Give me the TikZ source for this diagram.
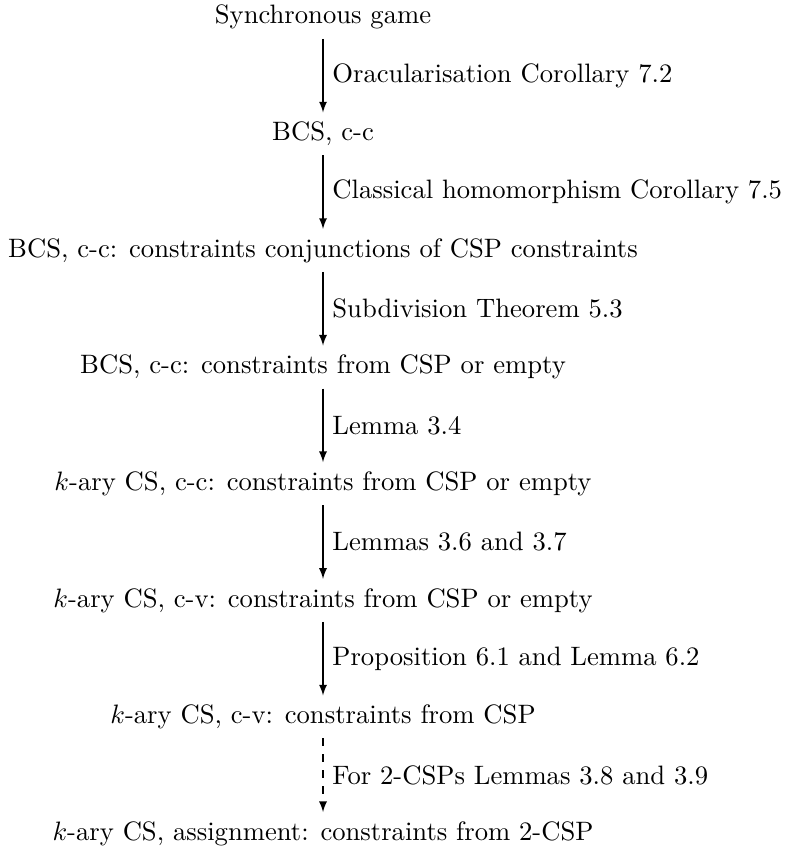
\documentclass[tikz,border=0pt]{standalone}
\usepackage{amsmath}
\usepackage{amssymb}

\begin{document}
\begin{tikzpicture}[x=0.3756pt,y=0.3756pt,yscale=-1,xscale=1]
    \useasboundingbox (0,0) rectangle (784,855);

    % Text Node
    \node (sync) [anchor=base] at (323,24) {Synchronous game};
    % Text Node
    \node (bcs) [anchor=base] at (323,140.6) {BCS, c-c};
    % Text Node
    \node (bcsconj) [anchor=base] at (323,257.1) {BCS, c-c: constraints conjunctions of CSP constraints};
    % Text Node
    \node (bcsempty) [anchor=base] at (323,373.7) {BCS, c-c: constraints from CSP or empty};
    % Text Node
    \node (kcc) [anchor=base] at (323,490.3) {$k$-ary CS, c-c: constraints from CSP or empty};
    % Text Node
    \node (kcv) [anchor=base] at (323,607) {$k$-ary CS, c-v: constraints from CSP or empty};
    % Text Node
    \node (kcvcsp) [anchor=base] at (323,723.6) {$k$-ary CS, c-v: constraints from CSP};
    % Text Node
    \node (kassign) [anchor=base] at (323,840.2) {$k$-ary CS, assignment: constraints from 2-CSP};

    %Straight Lines
    \draw [-latex] (sync) -- (bcs) node [midway, right] {Oracularisation Corollary 7.2};
    %Straight Lines
    \draw [-latex] (bcs) -- (bcsconj) node [midway, right] {Classical homomorphism Corollary 7.5};
    %Straight Lines
    \draw [-latex] (bcsconj) -- (bcsempty) node [midway, right] {Subdivision Theorem 5.3};
    %Straight Lines
    \draw [-latex] (bcsempty) -- (kcc) node [midway, right] {Lemma 3.4};
    %Straight Lines
    \draw [-latex] (kcc) -- (kcv) node [midway, right] {Lemmas 3.6 and 3.7};
    %Straight Lines
    \draw [-latex] (kcv) -- (kcvcsp) node [midway, right] {Proposition 6.1 and Lemma 6.2};
    %Straight Lines
    \draw [-latex, dashed] (kcvcsp) -- (kassign) node [midway, right] {For 2-CSPs Lemmas 3.8 and 3.9};

\end{tikzpicture}
\end{document}
